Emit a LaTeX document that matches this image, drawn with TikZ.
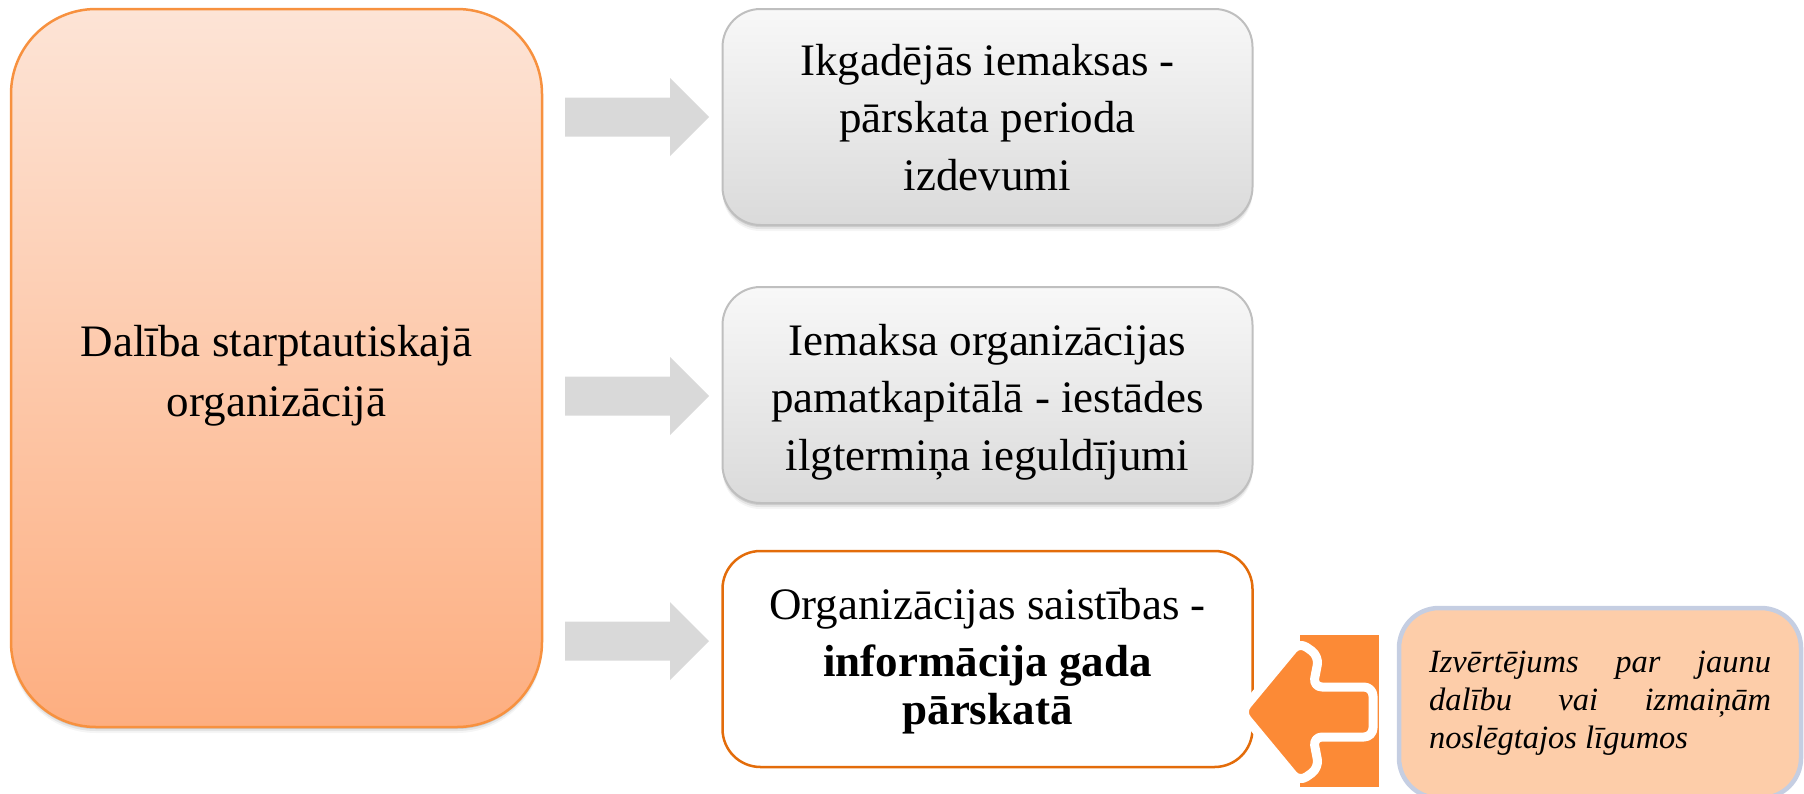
\documentclass[tikz,border=0pt]{standalone}
\usepackage{fontspec}
\setmainfont{Liberation Serif}
\usetikzlibrary{shadows}
\definecolor{bigtop}{HTML}{FDE4D6}
\definecolor{bigbot}{HTML}{FDAE80}
\definecolor{bigline}{HTML}{F7913F}
\definecolor{graytop}{HTML}{F8F8F8}
\definecolor{graybot}{HTML}{DADADA}
\definecolor{grayline}{HTML}{BFBFBF}
\definecolor{arrowgray}{HTML}{D9D9D9}
\definecolor{darkorange}{HTML}{E36C0A}
\definecolor{arroworange}{HTML}{FC8A36}
\definecolor{peach}{HTML}{FDCDA9}
\definecolor{bluegray}{HTML}{C5CEE2}
\tikzset{
  boxshadow/.style={
    drop shadow={shadow xshift=0pt,shadow yshift=-2pt,opacity=0.10,fill=black},
    drop shadow={shadow xshift=0pt,shadow yshift=-4pt,opacity=0.07,fill=black},
    drop shadow={shadow xshift=0pt,shadow yshift=-6pt,opacity=0.04,fill=black}},
  bigbox/.style={draw=bigline,line width=2.5pt,top color=bigtop,bottom color=bigbot,
    rounded corners=85pt,minimum width=531pt,minimum height=718pt,inner sep=0pt,
    align=center,font=\fontsize{45}{58.5}\selectfont,boxshadow},
  graybox/.style={draw=grayline,line width=2pt,top color=graytop,bottom color=graybot,
    rounded corners=38pt,minimum width=530pt,minimum height=216pt,inner sep=0pt,
    align=center,font=\fontsize{45}{57.5}\selectfont,boxshadow},
  whitebox/.style={draw=darkorange,line width=2.5pt,fill=white,
    rounded corners=38pt,minimum width=530pt,minimum height=216pt,inner sep=0pt,
    align=center,font=\fontsize{45}{57.5}\selectfont},
  notebox/.style={draw=bluegray,line width=4.5pt,fill=peach,rounded corners=40pt,
    minimum width=402pt,minimum height=190pt,inner sep=0pt,text width=342pt,
    align=justify,font=\fontsize{32.5}{38}\selectfont\itshape},
  grayarrow/.style={fill=arrowgray},
}
\begin{document}
\begin{tikzpicture}[x=1pt,y=-1pt]
\useasboundingbox (0,0) rectangle (1804,793);

\node[bigbox] (main) at (276.5,368) {\raisebox{-7pt}[\height][\depth]{\begin{tabular}{@{}c@{}}Dalība starptautiskajā\\[1.5pt]organizācijā\end{tabular}}};

\node[graybox] (b1) at (987.5,117) {\raisebox{-4pt}[\height][\depth]{\begin{tabular}{@{}c@{}}Ikgadējās iemaksas -\\pārskata perioda\\izdevumi\end{tabular}}};
\node[graybox] (b2) at (987.5,395) {\raisebox{-6pt}[\height][\depth]{\begin{tabular}{@{}c@{}}Iemaksa organizācijas\\pamatkapitālā - iestādes\\ilgtermiņa ieguldījumi\end{tabular}}};
\node[whitebox] (b3) at (987.5,659) {\raisebox{-1pt}[\height][\depth]{\begin{tabular}{@{}c@{}}Organizācijas saistības -\\\textbf{informācija gada}\\[-10pt]\textbf{pārskatā}\end{tabular}}};

\foreach \cy in {117,396,641}{
  \path[grayarrow] (565,{\cy-19.5}) -- (670,{\cy-19.5}) -- (670,{\cy-39}) -- (709,\cy)
     -- (670,{\cy+39}) -- (670,{\cy+19.5}) -- (565,{\cy+19.5}) -- cycle;
}

\node[notebox] (note) at (1600,703) {Izvērtējums par jaunu dalību vai izmaiņām noslēgtajos līgumos\par};

% bent orange arrow
\fill[arroworange] (1300,635) rectangle (1379,787);
\path[fill=arroworange,draw=white,line width=9pt,rounded corners=9pt,line join=round]
  (1241,712) -- (1299,642) -- (1319,656) -- (1313,687) -- (1373,687) -- (1373,737)
  -- (1313,737) -- (1319,768) -- (1299,782) -- cycle;
\end{tikzpicture}
\end{document}
